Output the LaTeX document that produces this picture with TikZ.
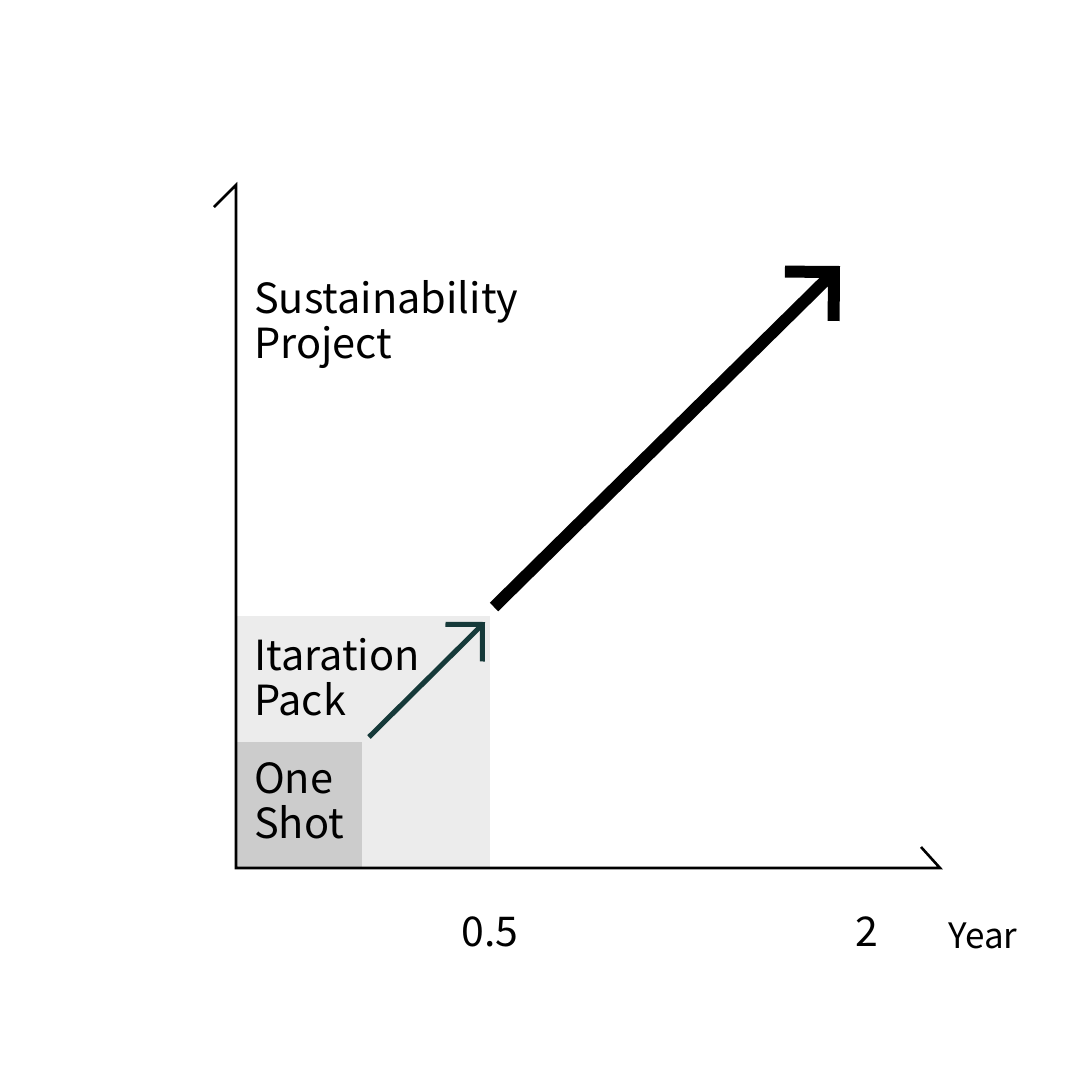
\documentclass[tikz,border=0pt]{standalone}
\usepackage{fontspec}
\setmainfont{Noto Sans CJK JP}
\usepackage{tikz}
\usetikzlibrary{arrows.meta, positioning}
\definecolor{packgrey}{RGB}{236,236,236}
\definecolor{shotgrey}{RGB}{204,204,204}
\definecolor{iterteal}{RGB}{22,58,58}

\begin{document}
\begin{tikzpicture}[x=1pt, y=-1pt, font=\fontsize{41.5}{44.5}\selectfont]
    \useasboundingbox (0,0) rectangle (1080,1080);
    % Areas
    \fill[packgrey] (236,616) rectangle (490,868);
    \fill[shotgrey] (236,742) rectangle (362,868);
    % Axes
    \coordinate (origin) at (236,868);
    \coordinate (ytop) at (236,185);
    \coordinate (xend) at (940,868);
    \draw[line width=2.6pt, line join=miter] (214,207) -- (ytop) -- (origin) -- (xend) -- (921,847);
    % Arrows
    \coordinate (packstart) at (369,737);
    \coordinate (packtip) at (485,622);
    \draw[iterteal, line width=5pt, -{Straight Barb[angle=90:37pt, sharp]}] (packstart) -- (packtip);
    \coordinate (projstart) at (494,607);
    \coordinate (projtip) at (840,266);
    \draw[line width=12pt, -{Straight Barb[angle=90:49pt, sharp]}] (projstart) -- (projtip);
    % Labels
    \node[anchor=base west, align=left, inner sep=0pt] (proj) at (254,358) {Sustainability\\Project};
    \node[anchor=base west, align=left, inner sep=0pt] (pack) at (254,715) {Itaration\\Pack};
    \node[anchor=base west, align=left, inner sep=0pt] (shot) at (254,838) {One\\Shot};
    \node[anchor=base, inner sep=0pt, font=\fontsize{41}{41}\selectfont] (half) at (490,946) {0.5};
    \node[anchor=base, inner sep=0pt, font=\fontsize{41}{41}\selectfont] (two) at (867,946) {2};
    \node[anchor=base west, inner sep=0pt, font=\fontsize{35}{35}\selectfont] (year) at (948,948) {Year};
  \end{tikzpicture}
\end{document}
